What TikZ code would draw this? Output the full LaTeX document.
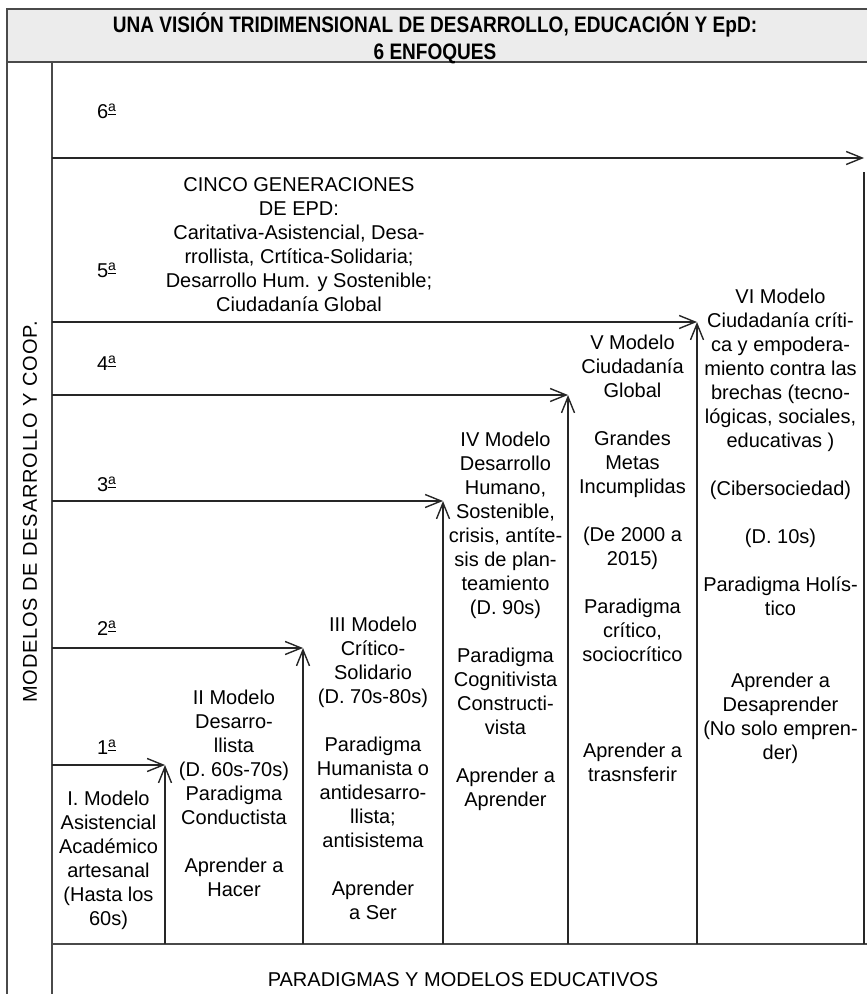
\documentclass[tikz,border=0pt]{standalone}
\usepackage{fontspec}
\setmainfont{Liberation Sans}
\newfontfamily\narrowfont{Liberation Sans}[FakeStretch=0.85]
\usetikzlibrary{positioning,arrows.meta}
\definecolor{framegray}{HTML}{4A4A4A}
\definecolor{titlegray}{HTML}{ECECEC}
\tikzstyle{frame line}=[draw=framegray,line width=1pt]
\tikzstyle{gen arrow}=[-{Straight Barb[length=8pt,width=6.5pt]},draw=black!85,line width=0.7pt]
\tikzstyle{model text}=[align=center,anchor=north,inner sep=0pt,font=\fontsize{10}{12}\selectfont]
\newcommand{\ordinal}[1]{#1\textsuperscript{\underline{a}}}
\newcommand{\gennode}[3][]{
  \node [anchor=mid, inner sep=0pt, font=\fontsize{10}{12}\selectfont, #1] (#2) {#3}
}
\newcommand{\modelnode}[3][]{
  \node [model text, #1] (#2) {#3}
}

\begin{document}
\begin{tikzpicture}[x=0.5pt,y=-0.5pt]
        \useasboundingbox (0,0) rectangle (867,994);
        \fill[titlegray] (7,9) rectangle (867,62);
        \draw[frame line] (867,9) -- (7,9) -- (7,994);
        \draw[frame line] (7,62) -- (867,62);
        \draw[frame line] (52,62) -- (52,994);
        \draw[frame line] (52,944) -- (867,944);
        \node[align=center, inner sep=0pt, font=\narrowfont\bfseries\fontsize{11.2}{13.5}\selectfont] (title) at (435,38.5)
          {UNA VISIÓN TRIDIMENSIONAL DE DESARROLLO, EDUCACIÓN Y EpD:\\ 6 ENFOQUES};
        \node[rotate=90, inner sep=0pt, font=\fontsize{10}{12}\selectfont] (axis) at (30,512)
          {\addfontfeature{LetterSpace=4}MODELOS DE DESARROLLO Y COOP.};
        \node[inner sep=0pt, font=\fontsize{10}{12}\selectfont] (paradigms) at (463,980) {PARADIGMAS Y MODELOS EDUCATIVOS};

        \coordinate (s1) at (52,765);  \coordinate (c1) at (165,765); \coordinate (b1) at (165,944);
        \coordinate (s2) at (52,648);  \coordinate (c2) at (303,648); \coordinate (b2) at (303,944);
        \coordinate (s3) at (52,501);  \coordinate (c3) at (443,501); \coordinate (b3) at (443,944);
        \coordinate (s4) at (52,395);  \coordinate (c4) at (568,395); \coordinate (b4) at (568,944);
        \coordinate (s5) at (52,322);  \coordinate (c5) at (697,322); \coordinate (b5) at (697,944);
        \coordinate (s6) at (52,158);  \coordinate (c6) at (864,158); \coordinate (b6) at (864,944);
        \coordinate (c6low) at (864,172);

        \draw[gen arrow] (s1) -- (c1);
        \draw[gen arrow] (s2) -- (c2);
        \draw[gen arrow] (s3) -- (c3);
        \draw[gen arrow] (s4) -- (c4);
        \draw[gen arrow] (s5) -- (c5);
        \draw[gen arrow] (s6) -- (c6);
        \draw[gen arrow] (b1) -- (c1);
        \draw[gen arrow] (b2) -- (c2);
        \draw[gen arrow] (b3) -- (c3);
        \draw[gen arrow] (b4) -- (c4);
        \draw[gen arrow] (b5) -- (c5);
        \draw[draw=black!85,line width=0.7pt] (b6) -- (c6low);

        \gennode[at={(107,749)}]{gen1}{\ordinal{1}};
        \gennode[at={(107,630)}]{gen2}{\ordinal{2}};
        \gennode[at={(107,486)}]{gen3}{\ordinal{3}};
        \gennode[at={(107,365)}]{gen4}{\ordinal{4}};
        \gennode[at={(107,272)}]{gen5}{\ordinal{5}};
        \gennode[at={(107,113)}]{gen6}{\ordinal{6}};
        \node[model text] (fives) at (299,177) {CINCO GENERACIONES\\ DE EPD:\\ Caritativa-Asistencial, Desa-\\ rrollista, Crtítica-Solidaria;\\ Desarrollo Hum. y Sostenible;\\ Ciudadanía Global};

        \modelnode[at={(108.5,791)}]{m1}{I. Modelo\\ Asistencial\\ Académico\\ artesanal\\ (Hasta los\\ 60s)};
        \modelnode[at={(234,690)}]{m2}{II Modelo\\ Desarro-\\ llista\\ (D. 60s-70s)\\ Paradigma\\ Conductista\\[12pt] Aprender a\\ Hacer};
        \modelnode[at={(373,617)}]{m3}{III Modelo\\ Crítico-\\ Solidario\\ (D. 70s-80s)\\[12pt] Paradigma\\ Humanista o\\ antidesarro-\\ llista;\\ antisistema\\[12pt] Aprender\\ a Ser};
        \modelnode[at={(505.5,432)}]{m4}{IV Modelo\\ Desarrollo\\ Humano,\\ Sostenible,\\ crisis, antíte-\\ sis de plan-\\ teamiento\\ (D. 90s)\\[12pt] Paradigma\\ Cognitivista\\ Constructi-\\ vista\\[12pt] Aprender a\\ Aprender};
        \modelnode[at={(632.5,335)}]{m5}{V Modelo\\ Ciudadanía\\ Global\\[12pt] Grandes\\ Metas\\ Incumplidas\\[12pt] (De 2000 a\\ 2015)\\[12pt] Paradigma\\ crítico,\\ sociocrítico\\[36pt] Aprender a\\ trasnsferir};
        \modelnode[at={(780.5,289)}]{m6}{VI Modelo\\ Ciudadanía críti-\\ ca y empodera-\\ miento contra las\\ brechas (tecno-\\ lógicas, sociales,\\ educativas )\\[12pt] (Cibersociedad)\\[12pt] (D. 10s)\\[12pt] Paradigma Holís-\\ tico\\[24pt] Aprender a\\ Desaprender\\ (No solo empren-\\ der)};
\end{tikzpicture}
\end{document}
